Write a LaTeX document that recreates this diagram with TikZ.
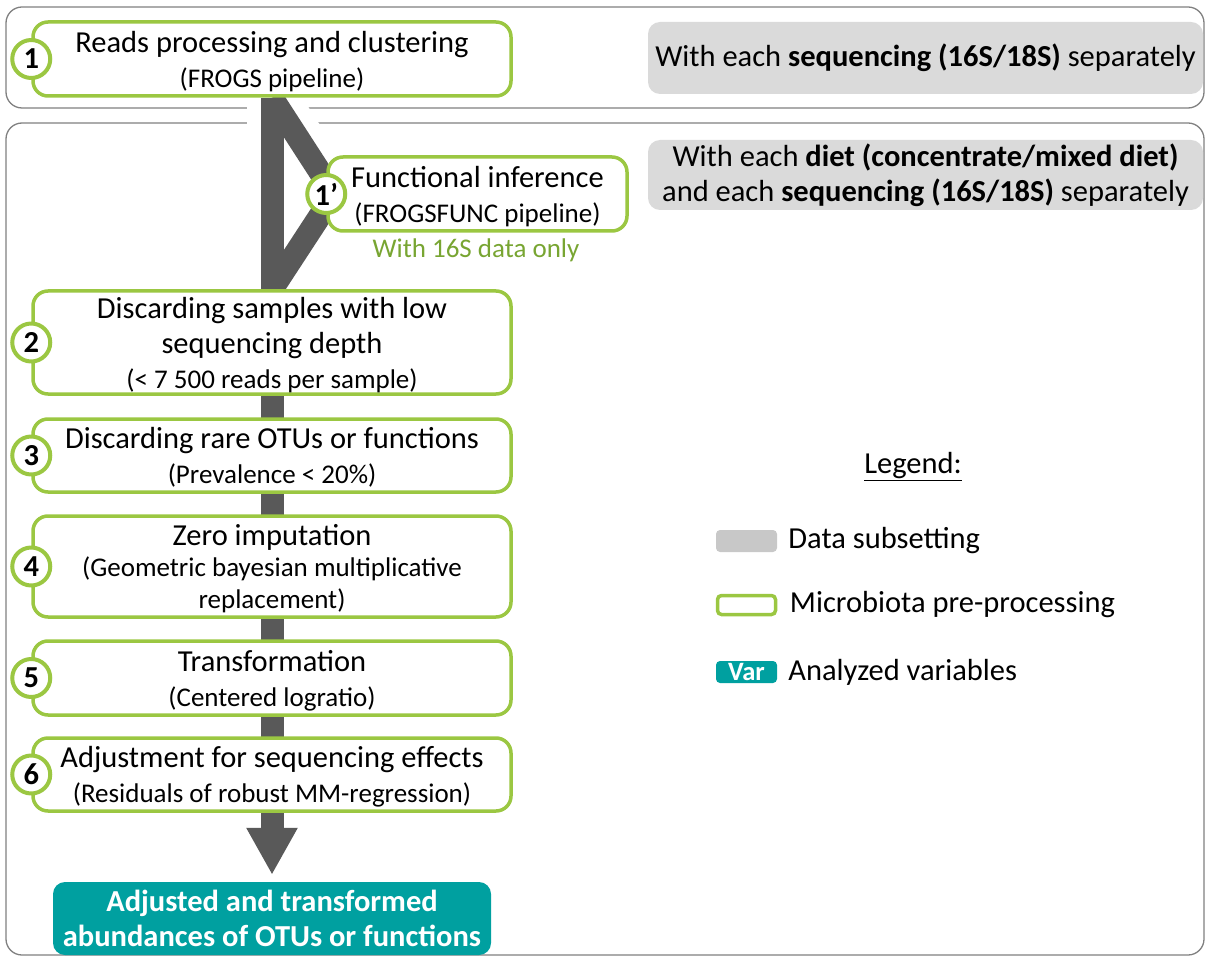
\documentclass[tikz,border=0pt]{standalone}
\usepackage{fontspec}
\setmainfont{Carlito}
\usetikzlibrary{positioning,arrows.meta}
\definecolor{boxgreen}{RGB}{155,199,66}
\definecolor{textgreen}{RGB}{120,165,50}
\definecolor{subgray}{RGB}{218,218,218}
\definecolor{leggray}{RGB}{200,200,200}
\definecolor{resteal}{RGB}{0,160,160}
\definecolor{flowgray}{RGB}{89,89,89}
\definecolor{framegray}{RGB}{128,128,128}
\newcommand{\mainfs}{\fontsize{30.5}{35}\selectfont}
\newcommand{\smallfs}{\fontsize{27}{35}\selectfont}
\pgfdeclarelayer{bg}
\pgfsetlayers{bg,main}
\begin{document}
\begin{tikzpicture}[x=1pt, y=-1pt,
    stepbox/.style={draw=boxgreen, line width=3.5pt, rounded corners=15pt, fill=white, align=center, font=\mainfs, inner sep=0pt, minimum width=478pt, text depth=0pt},
    stepnum/.style={shape=circle, draw=boxgreen, line width=4pt, fill=white, minimum size=38pt, inner sep=0pt, font=\mainfs\bfseries},
    subset/.style={fill=subgray, rounded corners=12pt, align=center, font=\mainfs, inner sep=0pt, minimum width=555pt},
    frame/.style={draw=framegray, line width=1.3pt, rounded corners=16pt},
    flowline/.style={draw=flowgray, line width=23pt},
    halo/.style={draw=white, line width=51pt},
    keybox/.style={rounded corners=4pt, minimum width=61pt, minimum height=22pt, inner sep=0pt},
    keytext/.style={font=\mainfs, inner sep=0pt}]
    \useasboundingbox (0, 0) rectangle (1206, 957);

    \node (b1) at (272, 59) [stepbox, minimum height=74pt] {Reads processing and clustering\\{\smallfs (FROGS pipeline)}};
    \node (f1) at (477.5, 194) [stepbox, minimum width=299pt, minimum height=74pt] {Functional inference\\{\smallfs (FROGSFUNC pipeline)}};
    \node (only16s) at (476, 250) [text=textgreen, font=\smallfs] {With 16S data only};
    \node (b2) at (272, 342.5) [stepbox, minimum height=103pt] {Discarding samples with low\\sequencing depth\\{\smallfs (< 7 500 reads per sample)}};
    \node (b3) at (272, 455.5) [stepbox, minimum height=73pt] {Discarding rare OTUs or functions\\{\smallfs (Prevalence < 20\%)}};
    \node (b4) at (272, 566.5) [stepbox, minimum height=101pt] {Zero imputation\\[-4pt]{\smallfs (Geometric bayesian multiplicative}\\[-3pt]{\smallfs replacement)}};
    \node (b5) at (272, 678) [stepbox, minimum height=74pt] {Transformation\\{\smallfs (Centered logratio)}};
    \node (b6) at (272, 774.5) [stepbox, minimum height=73pt] {Adjustment for sequencing effects\\{\smallfs (Residuals of robust MM-regression)}};
    \node (res) at (272, 918.5) [fill=resteal, rounded corners=12pt, minimum width=438pt, minimum height=73pt, inner sep=0pt, align=center, text=white, font=\fontsize{30.5}{35}\selectfont\bfseries] {Adjusted and transformed\\abundances of OTUs or functions};

    \node (n1) at (b1.west) [stepnum] {1};
    \node (n1b) at (f1.west) [stepnum] {1’};
    \node (n2) at (b2.west) [stepnum] {2};
    \node (n3) at (b3.west) [stepnum] {3};
    \node (n4) at (b4.west) [stepnum] {4};
    \node (n5) at (b5.west) [stepnum] {5};
    \node (n6) at (b6.west) [stepnum] {6};

    \node (s1) at (925.5, 58) [subset, minimum height=72pt] {With each \textbf{sequencing (16S/18S)} separately};
    \node (s2) at (925.5, 175) [subset, minimum height=70pt] {With each \textbf{diet (concentrate/mixed diet)}\\and each \textbf{sequencing (16S/18S)} separately};

    % legend
    \node (leg) at (913, 467) [font=\mainfs] {\underline{Legend:}};
    \node (k1) at (746.5, 541) [keybox, fill=leggray] {};
    \node (k2) at (746.5, 605) [keybox, draw=boxgreen, line width=3.5pt, minimum width=58pt, minimum height=19pt] {};
    \node (k3) at (746.5, 672) [keybox, fill=resteal, text=white, font=\fontsize{26.5}{30}\selectfont\bfseries] {Var};
    \node (l1) [keytext, right=11pt of k1] {Data subsetting};
    \node (l2) [keytext, right=12.5pt of k2] {Microbiota pre-processing};
    \node (l3) [keytext, right=11pt of k3] {Analyzed variables};

    \begin{pgfonlayer}{bg}
        \draw[frame] (6, 7) rectangle (1204, 108);
        \draw[frame] (6, 123) rectangle (1204, 955);
        \draw[halo] (b1.south) -- (b2.north);
        \draw[halo] (b1.south) -- ([xshift=8pt]f1.west) -- (b2.north);
        \draw[flowline] (b1.south) -- ([xshift=8pt]f1.west) -- (b2.north);
        \draw[flowline, -{Triangle[width=48pt, length=47pt]}, shorten >=7pt] (b1.south) -- (res.north);
    \end{pgfonlayer}
\end{tikzpicture}
\end{document}
